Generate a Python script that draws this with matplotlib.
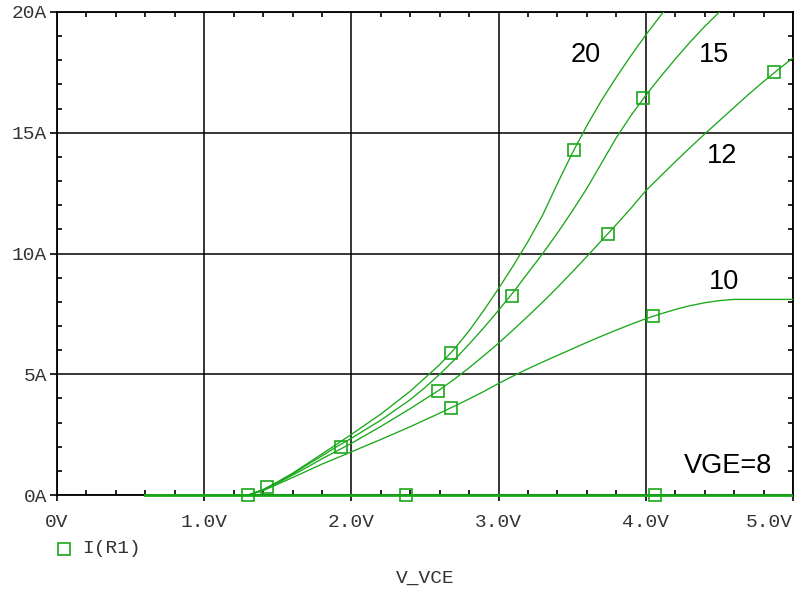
import numpy as np
import matplotlib
matplotlib.use("Agg")
import matplotlib.pyplot as plt
from matplotlib.ticker import MultipleLocator

# Barrido de V_VCE (V) y corriente I(R1) (A), por VGE
vce = [0.6, 1.0, 1.3, 1.4, 1.5, 1.6, 1.7, 1.8, 1.9, 2.0,
       2.2, 2.4, 2.5, 2.6, 2.7, 2.8, 2.9, 3.0,
       3.1, 3.2, 3.3, 3.4, 3.5, 3.6, 3.7, 3.8, 3.9, 4.0,
       4.1, 4.2, 4.3, 4.4, 4.5, 4.6, 4.7, 4.8, 4.9, 5.0]
i_20 = [0, 0, 0, 0.22, 0.55, 0.9, 1.3, 1.7, 2.1, 2.51,
        3.35, 4.3, 4.85, 5.4, 6.05, 6.8, 7.65, 8.55,
        9.5, 10.5, 11.6, 12.9, 14.15, 15.3, 16.35, 17.3, 18.2, 19.05,
        19.85, 20.6]
i_15 = [0, 0, 0, 0.22, 0.53, 0.87, 1.25, 1.62, 2.0, 2.35,
        3.1, 3.95, 4.45, 5.0, 5.6, 6.25, 6.93, 7.65,
        8.4, 9.2, 10.0, 10.85, 11.75, 12.7, 13.75, 14.8, 15.72, 16.55,
        17.32, 18.05, 18.75, 19.4, 20.0, 20.6]
i_12 = [0, 0, 0, 0.2, 0.5, 0.82, 1.15, 1.5, 1.82, 2.14,
        2.84, 3.58, 3.97, 4.36, 4.8, 5.27, 5.77, 6.29,
        6.84, 7.41, 7.99, 8.6, 9.23, 9.88, 10.54, 11.2, 11.88, 12.6,
        13.2, 13.8, 14.38, 14.95, 15.5, 16.05, 16.6, 17.12, 17.62, 18.1]
i_10 = [0, 0, 0, 0.18, 0.45, 0.72, 1.0, 1.28, 1.53, 1.79,
        2.3, 2.83, 3.11, 3.39, 3.68, 3.98, 4.29, 4.62,
        4.93, 5.23, 5.51, 5.78, 6.05, 6.32, 6.58, 6.83, 7.07, 7.3,
        7.5, 7.68, 7.84, 7.96, 8.05, 8.1, 8.1, 8.1, 8.1, 8.1]
i_8 = [0] * len(vce)

# marcadores (cuadros) de cada traza
m20_x, m20_y = [1.93, 2.68, 3.51], [2.0, 5.88, 14.3]
m15_x, m15_y = [1.43, 3.09, 3.98], [0.33, 8.24, 16.45]
m12_x, m12_y = [2.59, 3.74, 4.87], [4.3, 10.8, 17.53]
m10_x, m10_y = [1.30, 2.68, 4.05], [0.0, 3.6, 7.41]
m8_x, m8_y = [2.37, 4.06], [0.0, 0.0]

labels = ["20", "15", "12", "10", "VGE=8"]
label_x = [3.59, 4.46, 4.52, 4.53, 4.56]
label_y = [17.94, 17.94, 13.75, 8.52, 0.92]

xticks = [0, 1, 2, 3, 4, 5]
xticklabels = ["0V", "1.0V", "2.0V", "3.0V", "4.0V", "5.0V"]
yticks = [0, 5, 10, 15, 20]
yticklabels = ["0A", "5A", "10A", "15A", "20A"]

green = "#1aa81a"
mono = "Liberation Mono"
txt = "#333333"

fig = plt.figure(figsize=(7.99, 5.91), dpi=100)
ax = fig.add_axes([0.0713, 0.1624, 0.9212, 0.8173])

curves = [(i_20, m20_x, m20_y), (i_15, m15_x, m15_y), (i_12, m12_x, m12_y),
          (i_10, m10_x, m10_y), (i_8, m8_x, m8_y)]
for i_c, mx, my in curves:
    # la traza de VGE=8 va sobre el eje y se ve mas gruesa
    lw = 2.0 if i_c is i_8 else 0.95
    ax.plot(vce[:len(i_c)], i_c, color=green, lw=lw, zorder=3, clip_on=False)
for i_c, mx, my in curves:
    ax.plot(mx, my, "s", ms=8.5, mfc="none", mec=green, mew=1.2, zorder=4,
            clip_on=False)

for t, x, y in zip(labels, label_x, label_y):
    ax.text(x, y, t, family="Liberation Sans", fontsize=19.5,
            ha="center", va="baseline", color="black", zorder=5)

ax.set_xlim(0, 5)
ax.set_ylim(0, 20)
ax.set_xticks(xticks)
ax.set_xticklabels(xticklabels, family=mono, fontsize=14)
ax.set_yticks(yticks)
ax.set_yticklabels(yticklabels, family=mono, fontsize=14)
# PSpice pega la ultima etiqueta al borde derecho
ax.get_xticklabels()[-1].set_horizontalalignment("right")
ax.xaxis.set_minor_locator(MultipleLocator(0.2))
ax.yaxis.set_minor_locator(MultipleLocator(1))
ax.tick_params(which="major", axis="x", direction="out", length=4.5,
               width=1.2, pad=9, top=False, bottom=True, colors="black",
               labelcolor=txt)
ax.tick_params(which="major", axis="y", direction="out", length=5,
               width=1.2, pad=2, right=False, left=True, colors="black",
               labelcolor=txt)
ax.tick_params(which="minor", direction="in", length=3.5, width=1.2,
               top=True, bottom=True, left=True, right=True, colors="black")
ax.grid(True, which="major", color="black", lw=1.1)
for s in ax.spines.values():
    s.set_linewidth(1.3)
    s.set_color("black")

# las curvas que salen por arriba se recortan a mano (clip_on=False arriba)
ax.set_clip_on(True)
for ln in ax.lines:
    ln.set_clip_box(ax.bbox)
    ln.set_clip_on(True)
    ln.set_clip_path(None)
import matplotlib.transforms as mtransforms
clip = mtransforms.TransformedBbox(
    mtransforms.Bbox([[0, -0.02], [1, 1]]), ax.transAxes)
for ln in ax.lines:
    ln.set_clip_box(clip)

# leyenda y etiqueta del eje a mano, como en PSpice
ax.plot([0.0797], [0.0716], "s", ms=8, mfc="none", mec=green, mew=1.2,
        transform=fig.transFigure, clip_on=False)
fig.text(0.1022, 0.0724, "I(R1)", family=mono, fontsize=14,
         va="center", ha="left", color=txt)
fig.text(0.532, 0.022, "V_VCE", family=mono, fontsize=14,
         va="center", ha="center", color=txt)

fig.savefig("out.png", dpi=100)
